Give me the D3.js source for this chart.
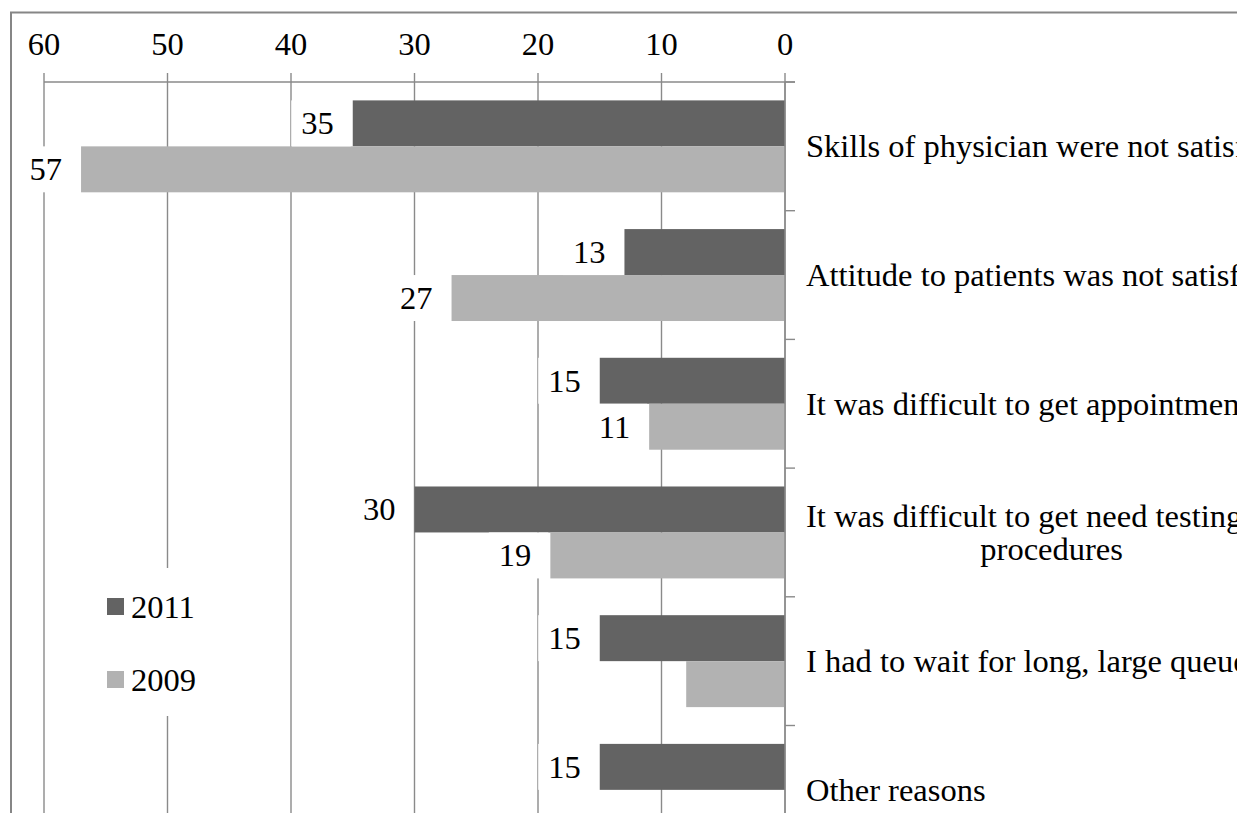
<!DOCTYPE html>
<meta charset="utf-8">
<body style="margin:0">
<svg width="1237" height="813"></svg>
<script src="https://d3js.org/d3.v7.min.js"></script>
<script>

var categories = [
  ["Skills of physician were not satisfactory"],
  ["Attitude to patients was not satisfactory"],
  ["It was difficult to get appointment"],
  ["It was difficult to get need testing and", "procedures"],
  ["I had to wait for long, large queues"],
  ["Other reasons"]
];
var series = ["2011", "2009"];
var values2011 = [35, 13, 15, 30, 15, 15];
var values2009 = [57, 27, 11, 19, 8, null];
// which values carry a data label in the picture
var labelled2011 = [true, true, true, true, true, true];
var labelled2009 = [true, true, true, true, false, false];
var ticks = [60, 50, 40, 30, 20, 10, 0];
var colors = { "2011": "#636363", "2009": "#b2b2b2" };
var gridColor = "#8a8a8a";

var svg = d3.select("svg");

function serif(sel) {
  return sel.attr("font-family", "Liberation Serif").attr("font-size", 32.5).attr("fill", "#000")
    .style("font-family", "'Liberation Serif'").style("font-size", "32.5px");
}

var keys = categories.map(function(c, i) { return i; });

var x = d3.scaleLinear().domain([60, 0]).range([44, 785]);
var y = d3.scaleBand().domain(keys).range([82, 82 + 6 * 128.7]);
var ys = d3.scaleBand().domain(series).range([0, y.bandwidth()]).paddingOuter(0.4);

// outer chart border (cut by the window at right and bottom)
svg.append("rect")
    .attr("x", 11).attr("y", 12.5)
    .attr("width", 1400).attr("height", 1000)
    .attr("fill", "none").attr("stroke", "#868686").attr("stroke-width", 2);

// vertical gridlines
svg.append("g")
  .selectAll("line").data(ticks).join("line")
    .attr("x1", function(d) { return x(d); }).attr("x2", function(d) { return x(d); })
    .attr("y1", 82).attr("y2", 900)
    .attr("stroke", gridColor).attr("stroke-width", 1.4);

// top axis, drawn by hand so the text keeps its own font
var axis = svg.append("g");
axis.append("line").attr("x1", x(60)).attr("x2", 795).attr("y1", 82).attr("y2", 82)
    .attr("stroke", gridColor).attr("stroke-width", 1.4);
axis.selectAll("line.tk").data(ticks).join("line").attr("class", "tk")
    .attr("x1", function(d) { return x(d); }).attr("x2", function(d) { return x(d); })
    .attr("y1", 73).attr("y2", 82)
    .attr("stroke", gridColor).attr("stroke-width", 1.4);
serif(axis.selectAll("text").data(ticks).join("text"))
    .attr("x", function(d) { return x(d); })
    .attr("y", 55)
    .attr("text-anchor", "middle")
    .text(function(d) { return d; });

var rows = [];
keys.forEach(function(i) {
  rows.push({ cat: i, s: "2011", v: values2011[i], lab: labelled2011[i] });
  rows.push({ cat: i, s: "2009", v: values2009[i], lab: labelled2009[i] });
});
rows = rows.filter(function(d) { return d.v != null; });

// bars
svg.append("g").selectAll("rect").data(rows).join("rect")
    .attr("x", function(d) { return x(d.v); })
    .attr("y", function(d) { return y(d.cat) + ys(d.s); })
    .attr("width", function(d) { return x(0) - x(d.v); })
    .attr("height", ys.bandwidth())
    .attr("fill", function(d) { return colors[d.s]; });

// data labels with white boxes
var lab = svg.append("g").selectAll("g").data(rows.filter(function(d) { return d.lab; })).join("g");
lab.append("rect").attr("fill", "#fff");
serif(lab.append("text"))
    .attr("text-anchor", "end")
    .attr("x", function(d) { return x(d.v) - 19; })
    .attr("y", function(d) { return y(d.cat) + ys(d.s) + ys.bandwidth() / 2 + 11; })
    .text(function(d) { return d.v; });
lab.each(function(d) {
  var g = d3.select(this), w = g.select("text").node().getComputedTextLength();
  g.select("rect")
    .attr("x", x(d.v) - 19 - w - 10)
    .attr("y", y(d.cat) + ys(d.s))
    .attr("width", w + 27)
    .attr("height", ys.bandwidth());
});

// category axis
svg.append("line")
    .attr("x1", x(0)).attr("x2", x(0)).attr("y1", 82).attr("y2", 900)
    .attr("stroke", gridColor).attr("stroke-width", 1.4);
svg.append("g").selectAll("line").data(d3.range(7)).join("line")
    .attr("x1", x(0)).attr("x2", 795)
    .attr("y1", function(d) { return 82 + d * y.step(); })
    .attr("y2", function(d) { return 82 + d * y.step(); })
    .attr("stroke", gridColor).attr("stroke-width", 1.4);

// category labels
svg.append("g").selectAll("g").data(keys).join("g")
  .each(function(i) {
    var lines = categories[i], g = d3.select(this);
    var cy = y(i) + y.bandwidth() / 2;
    var first = serif(g.append("text"))
        .attr("x", 806)
        .attr("y", cy + 11 - (lines.length - 1) * 16.5)
        .text(lines[0]);
    var mid = 806 + first.node().getComputedTextLength() / 2;
    lines.slice(1).forEach(function(t, k) {
      serif(g.append("text"))
          .attr("x", mid).attr("text-anchor", "middle")
          .attr("y", cy + 11 - (lines.length - 1) * 16.5 + (k + 1) * 33)
          .text(t);
    });
  });

// legend
var legend = svg.append("g");
legend.append("rect").attr("x", 95).attr("y", 568).attr("width", 120).attr("height", 148).attr("fill", "#fff");
var li = legend.selectAll("g").data(series).join("g")
    .attr("transform", function(d, i) { return "translate(107," + (598 + i * 73) + ")"; });
li.append("rect").attr("width", 17).attr("height", 17).attr("fill", function(d) { return colors[d]; });
serif(li.append("text")).attr("x", 24).attr("y", 19.5).text(function(d) { return d; });

</script>
